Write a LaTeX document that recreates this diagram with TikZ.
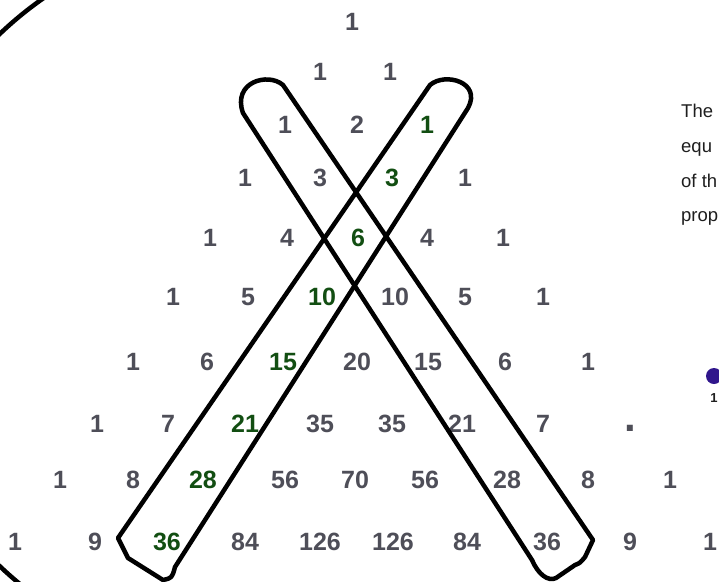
\documentclass[tikz,border=0pt]{standalone}
\usepackage{fontspec}
\setmainfont{Liberation Sans}
\usepackage{xcolor}
\usepackage{tikz}
\definecolor{numgray}{RGB}{78,78,88}
\definecolor{numgreen}{RGB}{18,78,18}
\definecolor{dotblue}{RGB}{48,22,140}
\definecolor{txtdark}{RGB}{30,30,30}

\begin{document}
\begin{tikzpicture}[x=1pt,y=-1pt,
  num/.style={text=numgray,font=\bfseries\fontsize{25}{28}\selectfont,inner sep=0pt},
  hi/.style={num,text=numgreen},
  band/.style={line width=4.5pt,line join=round},
  side/.style={text=txtdark,font=\fontsize{18.5}{22}\selectfont,anchor=base west,inner sep=0pt}]
	\useasboundingbox (0,0) rectangle (719,581);
	\clip (0,0) rectangle (719,581);
	\node[num] (r0-0) at (352,22) {1};
	\foreach \v/\x/\s [count=\k from 0] in {1/320/num,1/390/num}
		\node[\s] (r1-\k) at (\x,72) {\v};
	\foreach \v/\x/\s [count=\k from 0] in {1/285/num,2/357/num,1/427/hi}
		\node[\s] (r2-\k) at (\x,125) {\v};
	\foreach \v/\x/\s [count=\k from 0] in {1/245/num,3/320/num,3/392/hi,1/465/num}
		\node[\s] (r3-\k) at (\x,178) {\v};
	\foreach \v/\x/\s [count=\k from 0] in {1/210/num,4/287/num,6/358/hi,4/427/num,1/503/num}
		\node[\s] (r4-\k) at (\x,238) {\v};
	\foreach \v/\x/\s [count=\k from 0] in {1/173/num,5/248/num,10/322/hi,10/395/num,5/465/num,1/543/num}
		\node[\s] (r5-\k) at (\x,297) {\v};
	\foreach \v/\x/\s [count=\k from 0] in {1/133/num,6/207/num,15/283/hi,20/357/num,15/428/num,6/505/num,1/588/num}
		\node[\s] (r6-\k) at (\x,362) {\v};
	\foreach \v/\x/\s [count=\k from 0] in {1/97/num,7/168/num,21/245/hi,35/320/num,35/392/num,21/462/num,7/543/num}
		\node[\s] (r7-\k) at (\x,424) {\v};
	\node[num,font=\bfseries\fontsize{42}{42}\selectfont] (r7-7) at (630,428) {.};
	\foreach \v/\x/\s [count=\k from 0] in {1/60/num,8/133/num,28/203/hi,56/285/num,70/355/num,56/425/num,28/507/num,8/588/num,1/670/num}
		\node[\s] (r8-\k) at (\x,480) {\v};
	\foreach \v/\x/\s [count=\k from 0] in {1/15/num,9/95/num,36/167/hi,84/245/num,126/320/num,126/393/num,84/467/num,36/547/num,9/630/num,1/710/num}
		\node[\s] (r9-\k) at (\x,542) {\v};
	\draw[band] (254,300) ++(120:368) arc (120:240:368);
	\draw[band] (430,85) .. controls (445,72) and (482,82) .. (468,108) -- (175,567)
		.. controls (172,578) .. (163,580) -- (128,558) -- (118,538) -- cycle;
	\draw[band] (283,85) .. controls (268,72) and (232,82) .. (243,113) -- (532,560)
		.. controls (538,574) and (548,582) .. (556,578) -- (575,565)
		.. controls (580,563) .. (585,557) -- (593,540) -- cycle;
	\node[side] (t1) at (681,117) {The};
	\node[side] (t2) at (681,152) {equ};
	\node[side] (t3) at (681,187) {of th};
	\node[side] (t4) at (681,221) {prop};
	\node[circle,fill=dotblue,minimum size=16pt,inner sep=0pt] (pdot) at (714,376) {};
	\node[text=txtdark,font=\bfseries\fontsize{13}{14}\selectfont,inner sep=0pt] (pone) at (714,398) {1};
\end{tikzpicture}
\end{document}
